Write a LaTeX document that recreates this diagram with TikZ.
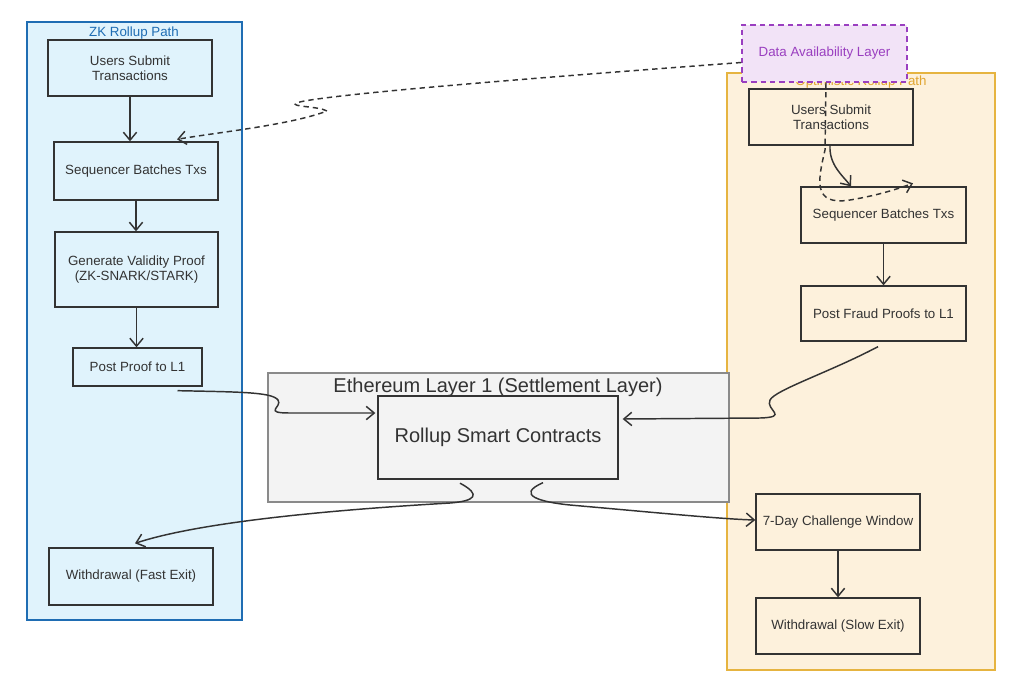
\documentclass[tikz,border=0pt]{standalone}
\usepackage{fontspec}
\setmainfont{Liberation Sans}
\usetikzlibrary{arrows.meta,calc}
\definecolor{zkfill}{HTML}{E0F3FC}
\definecolor{zkline}{HTML}{1F6DB3}
\definecolor{opfill}{HTML}{FDF1DC}
\definecolor{opline}{HTML}{E6B440}
\definecolor{optext}{HTML}{E0A530}
\definecolor{dafill}{HTML}{F2E3F7}
\definecolor{daline}{HTML}{9A3FC0}
\definecolor{ethfill}{HTML}{F3F3F3}
\definecolor{ethline}{HTML}{8A8A8A}
\definecolor{ink}{HTML}{333333}
\begin{document}
\begin{tikzpicture}[x=0.75pt,y=-0.75pt,
  box/.style={draw=ink, line width=1pt, text=ink, align=center, inner sep=0pt,
    font=\fontsize{10}{11.5}\selectfont},
  cluster/.style={line width=1.1pt, inner sep=0pt},
  clabel/.style={inner sep=0pt, font=\fontsize{10}{12}\selectfont},
  link/.style={draw=ink, line width=1.1pt, -{Straight Barb[length=6pt,width=10pt]}},
  dlink/.style={link, dash pattern=on 4pt off 3pt}]
\useasboundingbox[fill=white] (0,0) rectangle (1024,690);

% clusters
\node[cluster, draw=zkline, fill=zkfill, minimum width=161.25pt, minimum height=448.5pt] (zk) at (134.5,321) {};
\node[cluster, draw=opline, fill=opfill, minimum width=201pt, minimum height=447.75pt] (opt) at (861,371.5) {};
\node[cluster, draw=ethline, fill=ethfill, minimum width=345.75pt, minimum height=96.75pt] (eth) at (498.5,437.5) {};
\node[clabel, text=zkline] (zkl) at (134,33) {ZK Rollup Path};
\node[clabel, text=optext] (optl) at (861,82) {Optimistic Rollup Path};
\node[clabel, text=ink, font=\fontsize{15}{17}\selectfont] (ethl) at (498,387) {Ethereum Layer 1 (Settlement Layer)};

% ZK boxes
\node[box, minimum width=123pt, minimum height=42pt] (zu) at (130,68) {Users Submit\\Transactions};
\node[box, minimum width=123pt, minimum height=43.5pt] (zs) at (136,171) {Sequencer Batches Txs};
\node[box, minimum width=122.25pt, minimum height=56.25pt] (zg) at (136.5,269.5) {Generate Validity Proof\\(ZK-SNARK/STARK)};
\node[box, minimum width=96.75pt, minimum height=28.5pt] (zp) at (137.5,367) {Post Proof to L1};
\node[box, minimum width=123pt, minimum height=42.75pt] (zw) at (131,576.5) {Withdrawal (Fast Exit)};

% L1
\node[box, minimum width=180pt, minimum height=62.25pt, font=\fontsize{15}{17}\selectfont] (rc) at (498,437.5) {Rollup Smart Contracts};

% Optimistic boxes
\node[box, minimum width=123pt, minimum height=42pt] (ou) at (831,117) {Users Submit\\Transactions};
\node[box, minimum width=123.75pt, minimum height=42pt] (os) at (883.5,215) {Sequencer Batches Txs};
\node[box, minimum width=123.75pt, minimum height=41.25pt] (of) at (883.5,313.5) {Post Fraud Proofs to L1};
\node[box, minimum width=123pt, minimum height=42pt] (oc) at (838,522) {7-Day Challenge Window};
\node[box, minimum width=123pt, minimum height=42pt] (ow) at (838,626) {Withdrawal (Slow Exit)};

% solid connectors
\draw[link] (zu.south) -- (zu.south |- zs.north);
\draw[link] (zs.south) -- (zs.south |- zg.north);
\draw[link] (zg.south) -- (zg.south |- zp.north);
\draw[link] (os.south) -- (os.south |- of.north);
\draw[link] (oc.south) -- (oc.south |- ow.north);
\draw[link] ($(ou.south)+(-1,0)$) .. controls (829,165) and (843,176) .. ($(os.north)+(-32.5,0)$);
\draw[link] ($(zp.south)+(40,4)$) .. controls (240,392) and (272,392) .. (278,400)
  .. controls (283,407) and (262,413) .. (290,413) -- ($(rc.west)+(-2,-24.5)$);
\draw[link] ($(of.south)+(-5.5,5)$) .. controls (830,372) and (775,390) .. (770,400)
  .. controls (765,410) and (790,417) .. (760,418) -- ($(rc.east)+(4,-18.5)$);
\draw[link] ($(rc.south)+(-38,3.5)$) .. controls (482,495) and (475,501) .. (450,503)
  .. controls (330,510) and (200,522) .. ($(zw.north)+(4,-4)$);
\draw[link] ($(rc.south)+(45,3)$) .. controls (515,495) and (540,502) .. (570,505)
  .. controls (650,512) and (720,519) .. ($(oc.west)+(0,-2)$);

% Data availability layer
\node[box, draw=daline, fill=dafill, text=daline, dash pattern=on 4pt off 3pt, line width=1.1pt,
  minimum width=123.75pt, minimum height=42.75pt] (da) at (824.5,53.5) {Data Availability Layer};

% dashed connectors
\draw[dlink] ($(da.west)+(0,9)$) .. controls (520,79) and (320,95) .. (296,103)
  .. controls (290,107) and (318,106) .. (327,111)
  .. controls (290,125) and (220,132) .. ($(zs.north)+(41,-2)$);
\draw[dlink] ($(da.south)+(1.5,0)$) -- (825,150) .. controls (818,180) and (812,206) .. (850,200)
  .. controls (880,195) and (900,188) .. ($(os.north)+(29.5,-3)$);
\end{tikzpicture}
\end{document}
